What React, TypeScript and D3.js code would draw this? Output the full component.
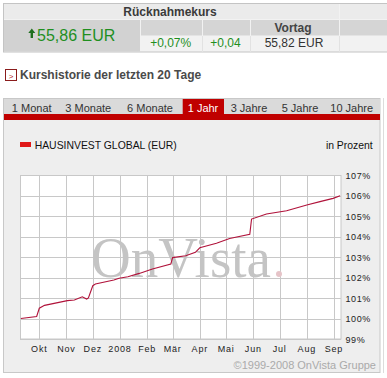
import React from "react";
import * as d3 from "d3";

const dates = ["2007-09-10","2007-09-28","2007-10-01","2007-10-07","2007-11-02","2007-11-10","2007-11-19","2007-11-24","2007-11-26","2007-12-01","2007-12-04","2007-12-25","2007-12-31","2008-01-10","2008-01-23","2008-02-07","2008-02-28","2008-03-01","2008-03-16","2008-03-27","2008-04-01","2008-04-20","2008-05-05","2008-05-28","2008-05-30","2008-06-16","2008-07-09","2008-08-01","2008-08-16","2008-08-31","2008-09-08"];
const values = [100.0,100.1,100.5,100.64,100.87,100.9,101.06,100.95,101.0,101.6,101.68,101.88,101.96,102.04,102.2,102.41,102.66,102.97,103.06,103.23,103.45,103.67,103.9,104.11,104.85,105.1,105.26,105.54,105.7,105.86,105.99];
const monthLabels = ["Okt","Nov","Dez","2008","Feb","Mär","Apr","Mai","Jun","Jul","Aug","Sep"];
const yTicks = [99,100,101,102,103,104,105,106,107];
const tabs = ["1 Monat","3 Monate","6 Monate","1 Jahr","3 Jahre","5 Jahre","10 Jahre"];
const tabCenters = [31.7,88.3,150,203,249,300,351.7];
const activeTab = "1 Jahr";
const price = "55,86 EUR";
const changePct = "+0,07%";
const changeAbs = "+0,04";
const prevLabel = "Vortag";
const prevPrice = "55,82 EUR";
const seriesName = "HAUSINVEST GLOBAL (EUR)";

const parse = d3.timeParse("%Y-%m-%d");

export default function App() {
  const font = "'Liberation Sans', Arial, sans-serif";
  const x = d3.scaleTime().domain([parse("2007-09-09")!, parse("2008-09-09")!]).range([20, 341]);
  const y = d3.scaleLinear().domain([99, 107]).range([339, 175]);
  const monthTicks = d3.timeMonth.range(parse("2007-10-01")!, parse("2008-09-02")!);
  const pts = dates.map((d, i) => [x(parse(d)!), y(values[i])] as [number, number]);
  const line = d3.line()(pts) || "";
  const green = "#1f8f1f";
  return (
    <div style={{ position: "absolute", left: 0, top: 0 }}>
      <svg width={387} height={378} style={{ display: "block", background: "#fff", fontFamily: font }}>
        {/* top table */}
        <rect x={3.5} y={3.5} width={390} height={48.5} fill="#f2f2f2" stroke="#c4c4c4" />
        <rect x={4} y={4} width={335} height={15} fill="#ebebeb" />
        <rect x={340} y={4} width={50} height={15} fill="#ebebeb" />
        <text x={170} y={16} textAnchor="middle" fontSize={12} fontWeight="bold" fill="#3a3a3a">Rücknahmekurs</text>
        <rect x={4} y={20} width={136} height={31.5} fill="#d2d2d2" />
        <rect x={141} y={20} width={61} height={15.5} fill="#d5d5d5" />
        <rect x={203} y={20} width={47} height={15.5} fill="#d5d5d5" />
        <rect x={251} y={20} width={88} height={15.5} fill="#d5d5d5" />
        <rect x={340} y={20} width={50} height={15.5} fill="#d5d5d5" />
        <line x1={202.5} x2={202.5} y1={36} y2={52} stroke="#e2e2e2" />
        <line x1={250.5} x2={250.5} y1={36} y2={52} stroke="#e2e2e2" />
        <line x1={339.5} x2={339.5} y1={36} y2={52} stroke="#e2e2e2" />
        <path d="M31.8,28.5 L28.3,33 L30.6,33 L30.6,38 L33,38 L33,33 L35.3,33 Z" fill="#1e6e1e" />
        <text x={37} y={41} fontSize={16} fill={green}>{price}</text>
        <text x={170.7} y={47} textAnchor="middle" fontSize={12} fill={green}>{changePct}</text>
        <text x={225.5} y={47} textAnchor="middle" fontSize={12} fill={green}>{changeAbs}</text>
        <text x={293} y={32} textAnchor="middle" fontSize={12} fontWeight="bold" fill="#444">{prevLabel}</text>
        <text x={294} y={47} textAnchor="middle" fontSize={12} fill="#333">{prevPrice}</text>

        {/* link */}
        <rect x={5.5} y={69.5} width={11} height={11} fill="#fff" stroke="#8a1c1c" />
        <text x={11} y={78.5} textAnchor="middle" fontSize={8} fill="#b01818">&gt;</text>
        <text x={20} y={78.5} fontSize={12} fontWeight="bold" fill="#4a4a4a">Kurshistorie der letzten 20 Tage</text>

        {/* chart panel */}
        <rect x={3.5} y={98.5} width={376.5} height={274} fill="#eeeeee" stroke="#c8c8c8" />
        <line x1={383.5} x2={383.5} y1={98} y2={373} stroke="#dcdcdc" />
        <rect x={4} y={99} width={376} height={15} fill="#dadada" />
        <rect x={182.7} y={99} width={41.3} height={15} fill="#c00000" />
        <rect x={4} y={114} width={376} height={6} fill="#c00000" />
        {tabs.map((t, i) => (
          <text key={t} x={tabCenters[i]} y={112} textAnchor="middle" fontSize={11} fill={t === activeTab ? "#fff" : "#333"}>{t}</text>
        ))}
        <rect x={20} y={142} width={11} height={5} fill="#e01818" />
        <text x={34.7} y={148.5} fontSize={10.4} fill="#111">{seriesName}</text>
        <text x={372.7} y={148.5} fontSize={10.4} textAnchor="end" fill="#111">in Prozent</text>

        {/* plot */}
        <rect x={20} y={175} width={321} height={164} fill="#fff" />
        {yTicks.map((t) => (
          <line key={"h" + t} x1={20} x2={341} y1={Math.round(y(t)) + 0.5} y2={Math.round(y(t)) + 0.5} stroke="#c8c8c8" />
        ))}
        {monthTicks.map((m, i) => (
          <line key={"v" + i} x1={Math.round(x(m)) + 0.5} x2={Math.round(x(m)) + 0.5} y1={175} y2={339} stroke="#c8c8c8" />
        ))}
        <rect x={20.5} y={175.5} width={320.5} height={163.5} fill="none" stroke="#c8c8c8" />
        <text x={91} y={277} fontSize={58} fontFamily="'Liberation Serif', 'Times New Roman', serif" fill="#c4c4c4" textLength={180} lengthAdjust="spacingAndGlyphs">OnVista</text>
        <circle cx={279} cy={274} r={3} fill="#e6c4c8" />
        <path d={line} fill="none" stroke="#b0123a" strokeWidth={1.1} />
        {yTicks.map((t) => (
          <text key={"yl" + t} x={345.5} y={y(t) + 3.5} fontSize={9} letterSpacing={0.6} fill="#222">{t}%</text>
        ))}
        {monthTicks.map((m, i) => (
          <text key={"xl" + i} x={x(m)} y={352} textAnchor="middle" fontSize={9} letterSpacing={0.8} fill="#222">{monthLabels[i]}</text>
        ))}
        <text x={376} y={369} textAnchor="end" fontSize={11} fill="#aaaaaa">©1999-2008 OnVista Gruppe</text>
      </svg>
    </div>
  );
}
